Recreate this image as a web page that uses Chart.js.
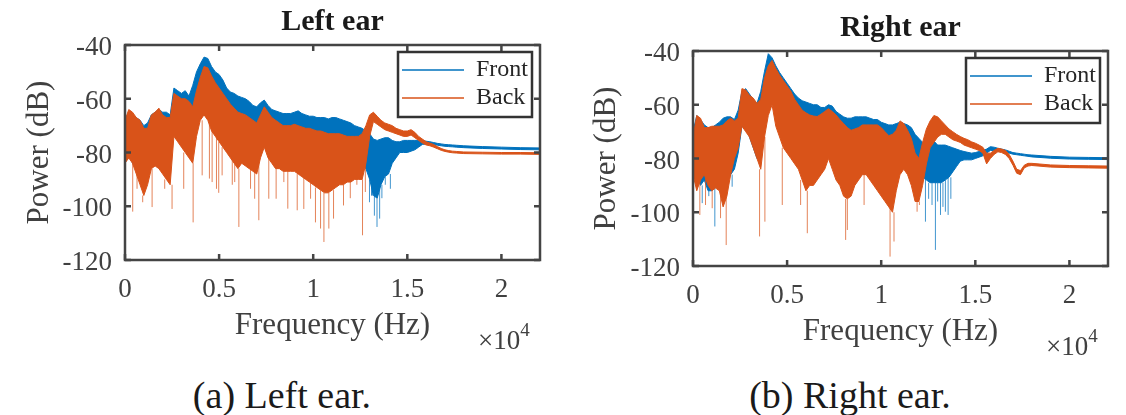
<!DOCTYPE html>
<html>
<head>
<meta charset="utf-8">
<script src="https://cdn.jsdelivr.net/npm/chart.js@4.4.1/dist/chart.umd.min.js"></script>
<style>
html,body{margin:0;padding:0;background:#fff;}
#wrap{position:relative;width:1126px;height:415px;overflow:hidden;background:#fff;font-family:'Liberation Serif','Times New Roman',Times,serif;}
canvas{position:absolute;}
.cap{position:absolute;font-size:38px;line-height:38px;color:#1a1a1a;white-space:nowrap;transform:translateX(-50%);}
.mult{position:absolute;font-size:27px;line-height:27px;color:#404040;white-space:nowrap;}
.mult .exp{font-size:19px;vertical-align:13px;}
</style>
</head>
<body>
<div id="wrap">
  <canvas id="leftChart" width="563" height="345" style="left:0;top:0;width:563px;height:345px"></canvas>
  <canvas id="rightChart" width="563" height="345" style="left:567px;top:6px;width:563px;height:345px"></canvas>
  <div class="mult" style="left:478px;top:316px">&times;10<span class="exp">4</span></div>
  <div class="mult" style="left:1046px;top:322px">&times;10<span class="exp">4</span></div>
  <div class="cap" style="left:282px;top:376px">(a) Left ear.</div>
  <div class="cap" style="left:850px;top:376px">(b) Right ear.</div>
</div>
<script>
// ---------------- data ----------------
const FREQ_HZ = [
  0,200,400,600,800,1000,1200,1400,1600,1800,
  2000,2200,2400,2600,2800,3000,3200,3400,3600,3800,
  4000,4200,4400,4600,4800,5000,5200,5400,5600,5800,
  6000,6200,6400,6600,6800,7000,7200,7400,7600,7800,
  8000,8200,8400,8600,8800,9000,9200,9400,9600,9800,
  10000,10200,10400,10600,10800,11000,11200,11400,11600,11800,
  12000,12200,12400,12600,12800,13000,13200,13400,13600,13800,
  14000,14200,14400,14600,14800,15000,15200,15400,15600,15800,
  16000,16200,16400,16600,16800,17000,17200,17400,17600,17800,
  18000,19000,20000,21000,22050
];

// Left ear, Front: upper and lower edge of the noisy band (dB)
const LEFT_FRONT_HI = [
  -68,-65,-66,-67,-68,-70,-69,-66,-65,-64,
  -65,-65,-66,-56,-57,-58,-57,-59,-55,-50,
  -47,-44.5,-45,-48,-50,-51,-53,-56,-57.5,-58,
  -59,-59.5,-60,-61,-62.5,-63,-61.5,-60.5,-62.5,-64,
  -64.5,-65,-65.5,-65.5,-65.5,-65,-64.5,-65.5,-66,-66.5,
  -66.5,-67,-67,-67,-67.5,-67,-67,-67.5,-68,-68.5,
  -69,-70,-70.5,-71,-72,-73,-75,-75.5,-75,-74.5,
  -74.5,-75.5,-76,-76,-75.5,-75.5,-75.5,-75.5,-75.5,-75.5,
  -75.8,-76,-76.3,-76.6,-76.8,-77,-77.1,-77.2,-77.3,-77.4,
  -77.5,-77.8,-78,-78.2,-78.3
];
const LEFT_FRONT_LO = [
  -84,-80,-84,-86,-88,-90,-88,-82,-80,-80,
  -82,-86,-86,-68,-70,-72,-74,-76,-72,-62,
  -58,-56,-57,-60,-64,-66,-68,-72,-74,-74,
  -76,-76,-77,-77,-78,-78,-74,-72,-74,-76,
  -77,-78,-78,-78,-78,-77,-77,-78,-78,-79,
  -79,-79,-79,-79,-80,-80,-80,-80,-80,-81,
  -82,-83,-84,-85,-86,-90,-96,-97,-92,-89,
  -88,-84,-82,-80,-80,-80,-79.5,-79,-78,-77,
  -76.8,-76.8,-77,-77.3,-77.5,-77.7,-77.8,-77.9,-78,-78.1,
  -78.2,-78.5,-78.7,-78.9,-79
];
const LEFT_FRONT_DIP_HZ = [12990,13120,13250,13390,13530,13650,13830,14100];
const LEFT_FRONT_DIP_DB = [-98.5,-92,-103.5,-107.7,-104.6,-97,-92,-93.5];

// Left ear, Back
const LEFT_BACK_HI = [
  -68,-64,-65,-67,-68,-71,-71,-66,-65,-63.5,
  -66,-67,-67,-58,-59,-60,-60,-61,-63,-57,
  -52,-48,-48.5,-51.5,-54,-56,-58,-60,-62,-63.5,
  -65,-65.5,-66,-67,-68,-69,-66,-63,-65,-67,
  -68,-69,-70,-70,-70,-69.5,-70,-70.5,-71,-71,
  -71.5,-72,-72,-72.5,-73,-73,-73,-73,-73.5,-74,
  -74,-74,-74,-73,-70,-66,-65,-66.5,-68,-69,
  -69.5,-70,-71,-71.5,-72,-72,-71.5,-72.5,-74,-75,
  -76,-76.5,-77,-77.8,-78.5,-79,-79.3,-79.5,-79.6,-79.7,
  -79.8,-79.9,-80,-80,-80.1
];
const LEFT_BACK_LO = [
  -84,-82,-84,-88,-92,-96,-92,-86,-85,-86,
  -88,-90,-92,-74,-76,-78,-80,-82,-84,-74,
  -68,-66,-68,-72,-74,-76,-78,-80,-82,-84,
  -86,-84,-85,-86,-87,-88,-82,-78,-82,-84,
  -86,-86,-87,-87,-87,-87,-88,-89,-90,-91,
  -92,-93,-94,-95,-95,-94,-93,-92,-92,-91,
  -91,-90,-90,-90,-84,-74,-68.5,-69.5,-70.5,-71.5,
  -72,-72.5,-73,-73.5,-74,-74,-73.5,-74.5,-75.5,-76.5,
  -77.2,-77.5,-78,-78.6,-79.2,-79.6,-79.9,-80.1,-80.2,-80.3,
  -80.4,-80.5,-80.6,-80.6,-80.7
];
const LEFT_BACK_DIP_HZ = [410,640,940,1440,2110,2500,3120,3620,4100,4485,4630,4860,4980,5160,5700,5830,6050,6670,6890,7110,7640,8030,8440,8650,9150,9500,9860,10120,10390,10570,10830,11080,11610,11970,12320,12620,12770];
const LEFT_BACK_DIP_DB = [-102,-93.5,-98.5,-100.3,-93.5,-101,-93.5,-106,-88.5,-89.7,-91,-93.5,-95,-88.5,-92,-91,-107.7,-93.5,-97.2,-105.2,-97.2,-97.2,-91,-100.9,-101.5,-101,-97.2,-106,-108.3,-113.3,-108.3,-104.6,-99.7,-97,-92,-110.8,-94.7];

// Right ear, Front
const RIGHT_FRONT_HI = [
  -70,-64,-65.5,-67.5,-68.5,-68.5,-67.5,-66.5,-65,-64.5,
  -64.5,-65.5,-62,-55,-54,-56,-58,-59.5,-55,-47.5,
  -41,-42.5,-45.5,-48,-50,-52,-54,-56,-57.5,-58.5,
  -59,-59.5,-60,-60,-61,-61,-60,-60.5,-62.5,-63.5,
  -64.5,-65,-65,-64.5,-64.5,-64.5,-64.5,-65,-65.5,-65.5,
  -66.5,-67,-67.5,-67.5,-67,-66.5,-67,-67.5,-68.5,-71,
  -72.5,-74,-74.5,-74,-73.5,-75,-75,-75,-75.5,-76,
  -76.5,-77,-77.4,-77.7,-78,-77.8,-77.4,-77,-76.5,-75.6,
  -75.8,-76.2,-76.5,-76.8,-77.3,-77.8,-78,-78.2,-78.4,-78.6,
  -78.7,-79.2,-79.5,-79.6,-79.7
];
const RIGHT_FRONT_LO = [
  -84,-86,-90,-88,-92,-92,-90,-86,-84,-84,
  -86,-84,-78,-68,-68,-72,-76,-80,-72,-60,
  -54,-56,-60,-64,-68,-70,-72,-74,-76,-78,
  -80,-80,-80,-79,-78,-76,-74,-76,-78,-80,
  -82,-82,-81,-80,-79,-78,-78,-79,-80,-81,
  -82,-83,-84,-84,-82,-80,-80,-82,-84,-85,
  -86,-87,-88,-89,-89,-89,-89,-88,-87,-85,
  -83,-81,-80.5,-80.5,-80.5,-80,-79.5,-79,-78,-77,
  -77,-77.2,-77.4,-77.6,-78,-78.4,-78.6,-78.8,-79,-79.2,
  -79.4,-79.9,-80.2,-80.3,-80.4
];
const RIGHT_FRONT_DIP_HZ = [490,840,1160,2080,6780,12350,12520,12700,12880,13000,13150,13280,13410,13555,13700];
const RIGHT_FRONT_DIP_DB = [-96.6,-94,-105.3,-90.5,-85.5,-103.5,-95,-97.3,-114,-96,-101,-98,-99.8,-101,-95];

// Right ear, Back
const RIGHT_BACK_HI = [
  -72,-64,-65,-68.5,-68.5,-68,-68,-68,-67.5,-66,
  -65,-66,-65,-54,-54.5,-56.5,-57.5,-59.5,-58,-50,
  -45.5,-43.5,-46.5,-49,-51,-53,-55,-58,-60,-62,
  -63,-63.8,-64.2,-64.4,-63.5,-62.5,-61.5,-62.5,-63.8,-65.5,
  -67,-68.5,-69.5,-69,-68.5,-67.5,-67.5,-67.5,-67.5,-67.5,
  -68.5,-70,-71.5,-71,-69.5,-66,-67,-69.5,-72.5,-78,
  -80,-74,-69,-66,-64,-64.5,-66,-67.5,-69,-70,
  -71,-71.8,-72.5,-73,-73.8,-74.3,-75,-75.8,-78,-78,
  -77,-76.2,-76.5,-77,-78.5,-81,-84,-84.5,-82.5,-81.8,
  -81.8,-82.4,-82.6,-82.7,-82.8
];
const RIGHT_BACK_LO = [
  -86,-92,-88,-86,-90,-92,-91,-92,-98,-94,
  -86,-80,-76,-68,-70,-72,-76,-80,-84,-72,
  -64,-60,-68,-72,-76,-78,-80,-82,-84,-88,
  -92,-90,-90,-88,-86,-84,-80,-84,-88,-90,
  -94,-95,-94,-90,-88,-86,-86,-88,-90,-92,
  -94,-96,-98,-100,-92,-86,-84,-86,-90,-96,
  -96,-90,-82,-76,-74,-72,-71,-71,-72,-73,
  -73.5,-74,-75,-75.5,-76,-76.5,-77,-78,-82,-80,
  -78.5,-77.5,-77.8,-78.5,-80,-82.5,-85.5,-86,-83.5,-82.8,
  -82.6,-83.2,-83.4,-83.5,-83.6
];
const RIGHT_BACK_DIP_HZ = [363,665,1020,1463,1764,3537,3820,4743,5718,6073,8111,8200,9090,10470,10680,11906,12030];
const RIGHT_BACK_DIP_DB = [-101,-97.3,-98.5,-102.2,-112.2,-109,-103.5,-97.3,-97.3,-107.8,-110.3,-106.6,-97.3,-116.5,-110.9,-99.8,-97.3];

const SERIES_NAMES = ['Front', 'Back'];
const PANEL_TITLES = ['Left ear', 'Right ear'];
const X_AXIS_TITLE = 'Frequency (Hz)';
const Y_AXIS_TITLE = 'Power (dB)';
const X_TICK_VALUES = [0, 5000, 10000, 15000, 20000];
const X_TICK_LABELS = ['0', '0.5', '1', '1.5', '2'];
const Y_TICK_VALUES = [-120, -100, -80, -60, -40];
const Y_TICK_LABELS = ['-120', '-100', '-80', '-60', '-40'];
const X_RANGE = [0, 22050];
const Y_RANGE = [-120, -40];

// ---------------- styling ----------------
const BLUE = '#0072BD';
const ORANGE = '#D95319';
const BLUE_DIP = 'rgba(0,114,189,0.75)';
const ORANGE_DIP = 'rgba(217,83,25,0.72)';
const FONT = "'Liberation Serif','Times New Roman',Times,serif";
const TEXT = '#404040';
const AXIS = '#444444';

function toPoints(xs, ys) { return xs.map((x, i) => ({ x: x, y: ys[i] })); }
function nearestIndex(f) {
  let best = 0;
  for (let i = 1; i < FREQ_HZ.length; i++) {
    if (Math.abs(FREQ_HZ[i] - f) < Math.abs(FREQ_HZ[best] - f)) best = i;
  }
  return best;
}
function dipPoints(fs, vs, lo) {
  const out = [];
  fs.forEach((f, i) => {
    out.push({ x: f, y: vs[i] }, { x: f, y: lo[nearestIndex(f)] }, { x: f, y: null });
  });
  return out;
}

function makeDatasets(front, back) {
  const base = { pointRadius: 0, pointHoverRadius: 0, tension: 0, spanGaps: false };
  return [
    Object.assign({ label: SERIES_NAMES[1], data: toPoints(FREQ_HZ, back.hi), borderColor: ORANGE, backgroundColor: ORANGE, borderWidth: 1, fill: 1, order: 0 }, base),
    Object.assign({ label: SERIES_NAMES[1] + ' lower', data: toPoints(FREQ_HZ, back.lo), borderColor: ORANGE, borderWidth: 1, fill: false, order: 0 }, base),
    Object.assign({ label: SERIES_NAMES[1] + ' dips', data: dipPoints(back.dipHz, back.dipDb, back.lo), borderColor: ORANGE_DIP, borderWidth: 1, fill: false, order: 0 }, base),
    Object.assign({ label: SERIES_NAMES[0], data: toPoints(FREQ_HZ, front.hi), borderColor: BLUE, backgroundColor: BLUE, borderWidth: 1, fill: 4, order: 1 }, base),
    Object.assign({ label: SERIES_NAMES[0] + ' lower', data: toPoints(FREQ_HZ, front.lo), borderColor: BLUE, borderWidth: 1, fill: false, order: 1 }, base),
    Object.assign({ label: SERIES_NAMES[0] + ' dips', data: dipPoints(front.dipHz, front.dipDb, front.lo), borderColor: BLUE_DIP, borderWidth: 1, fill: false, order: 1 }, base)
  ];
}

const LEGEND_BOX = { inset: 8, top: 7, w: 134, h: 65 };
function legendRect(chart) {
  const a = chart.chartArea;
  const x = a.right - LEGEND_BOX.inset - LEGEND_BOX.w;
  const y = a.top + LEGEND_BOX.top;
  return { x: x, y: y, w: LEGEND_BOX.w, h: LEGEND_BOX.h };
}

const framePlugin = {
  id: 'matlabFrame',
  afterLayout(chart) {
    const lg = chart.legend;
    if (!lg) return;
    const r = legendRect(chart);
    lg.left = r.x; lg.top = r.y + 2; lg.right = r.x + r.w; lg.bottom = r.y + r.h;
    lg.width = r.w; lg.height = r.h - 2;
  },
  afterDatasetsDraw(chart) {
    const ctx = chart.ctx, a = chart.chartArea, xs = chart.scales.x, ys = chart.scales.y;
    const TL = 6;
    ctx.save();
    ctx.strokeStyle = AXIS;
    ctx.lineWidth = 2.5;
    ctx.beginPath();
    X_TICK_VALUES.forEach(v => {
      const px = xs.getPixelForValue(v);
      ctx.moveTo(px, a.bottom); ctx.lineTo(px, a.bottom - TL);
      ctx.moveTo(px, a.top); ctx.lineTo(px, a.top + TL);
    });
    Y_TICK_VALUES.forEach(v => {
      const py = ys.getPixelForValue(v);
      ctx.moveTo(a.left, py); ctx.lineTo(a.left + TL, py);
      ctx.moveTo(a.right, py); ctx.lineTo(a.right - TL, py);
    });
    ctx.stroke();
    ctx.strokeRect(a.left, a.top, a.right - a.left, a.bottom - a.top);
    const r = legendRect(chart);
    ctx.fillStyle = '#ffffff';
    ctx.fillRect(r.x, r.y, r.w, r.h);
    ctx.strokeStyle = '#333333';
    ctx.lineWidth = 2.5;
    ctx.strokeRect(r.x, r.y, r.w, r.h);
    ctx.restore();
    if (chart.legend) chart.legend.draw();
  }
};

function makeChart(canvasId, title, front, back, yWidth, padRight) {
  return new Chart(document.getElementById(canvasId), {
    type: 'line',
    data: { datasets: makeDatasets(front, back) },
    options: {
      responsive: false,
      maintainAspectRatio: false,
      devicePixelRatio: 1,
      animation: false,
      events: [],
      layout: { padding: { left: 0, right: padRight, top: 0, bottom: 0 } },
      scales: {
        x: {
          type: 'linear', min: X_RANGE[0], max: X_RANGE[1],
          grid: { display: false, drawTicks: false },
          border: { display: false },
          afterBuildTicks: s => { s.ticks = X_TICK_VALUES.map(v => ({ value: v })); },
          afterFit: s => { s.height = 85; },
          ticks: {
            autoSkip: false, maxRotation: 0, padding: 14, color: TEXT,
            font: { family: FONT, size: 27 },
            callback: v => X_TICK_LABELS[X_TICK_VALUES.indexOf(v)]
          },
          title: { display: true, text: X_AXIS_TITLE, color: TEXT, font: { family: FONT, size: 31 }, padding: { top: 0, bottom: 1 } }
        },
        y: {
          type: 'linear', min: Y_RANGE[0], max: Y_RANGE[1],
          grid: { display: false, drawTicks: false },
          border: { display: false },
          afterBuildTicks: s => { s.ticks = Y_TICK_VALUES.map(v => ({ value: v })); },
          afterFit: s => { s.width = yWidth; },
          ticks: {
            autoSkip: false, padding: 13, labelOffset: 3, color: TEXT,
            font: { family: FONT, size: 27 },
            callback: v => Y_TICK_LABELS[Y_TICK_VALUES.indexOf(v)]
          },
          title: { display: true, text: Y_AXIS_TITLE, color: TEXT, font: { family: FONT, size: 31 }, padding: { top: 21, bottom: 0 } }
        }
      },
      plugins: {
        title: {
          display: true, text: title, fullSize: false, color: '#1a1a1a',
          font: { family: FONT, size: 30, weight: 'bold', lineHeight: 1.2 },
          padding: { top: 4, bottom: 5 }
        },
        legend: {
          display: true,
          position: 'chartArea',
          align: 'start',
          labels: {
            usePointStyle: true,
            pointStyle: 'line',
            pointStyleWidth: 62,
            padding: 4,
            color: '#262626',
            font: { family: FONT, size: 24 },
            generateLabels: () => [
              { text: SERIES_NAMES[0], fillStyle: BLUE, strokeStyle: BLUE, lineWidth: 1.5, pointStyle: 'line', hidden: false, datasetIndex: 3, fontColor: '#262626' },
              { text: SERIES_NAMES[1], fillStyle: ORANGE, strokeStyle: ORANGE, lineWidth: 1.5, pointStyle: 'line', hidden: false, datasetIndex: 0, fontColor: '#262626' }
            ]
          }
        },
        tooltip: { enabled: false }
      }
    },
    plugins: [framePlugin]
  });
}

makeChart('leftChart', PANEL_TITLES[0],
  { hi: LEFT_FRONT_HI, lo: LEFT_FRONT_LO, dipHz: LEFT_FRONT_DIP_HZ, dipDb: LEFT_FRONT_DIP_DB },
  { hi: LEFT_BACK_HI, lo: LEFT_BACK_LO, dipHz: LEFT_BACK_DIP_HZ, dipDb: LEFT_BACK_DIP_DB },
  125, 23);
makeChart('rightChart', PANEL_TITLES[1],
  { hi: RIGHT_FRONT_HI, lo: RIGHT_FRONT_LO, dipHz: RIGHT_FRONT_DIP_HZ, dipDb: RIGHT_FRONT_DIP_DB },
  { hi: RIGHT_BACK_HI, lo: RIGHT_BACK_LO, dipHz: RIGHT_BACK_DIP_HZ, dipDb: RIGHT_BACK_DIP_DB },
  126, 22);
</script>
</body>
</html>
